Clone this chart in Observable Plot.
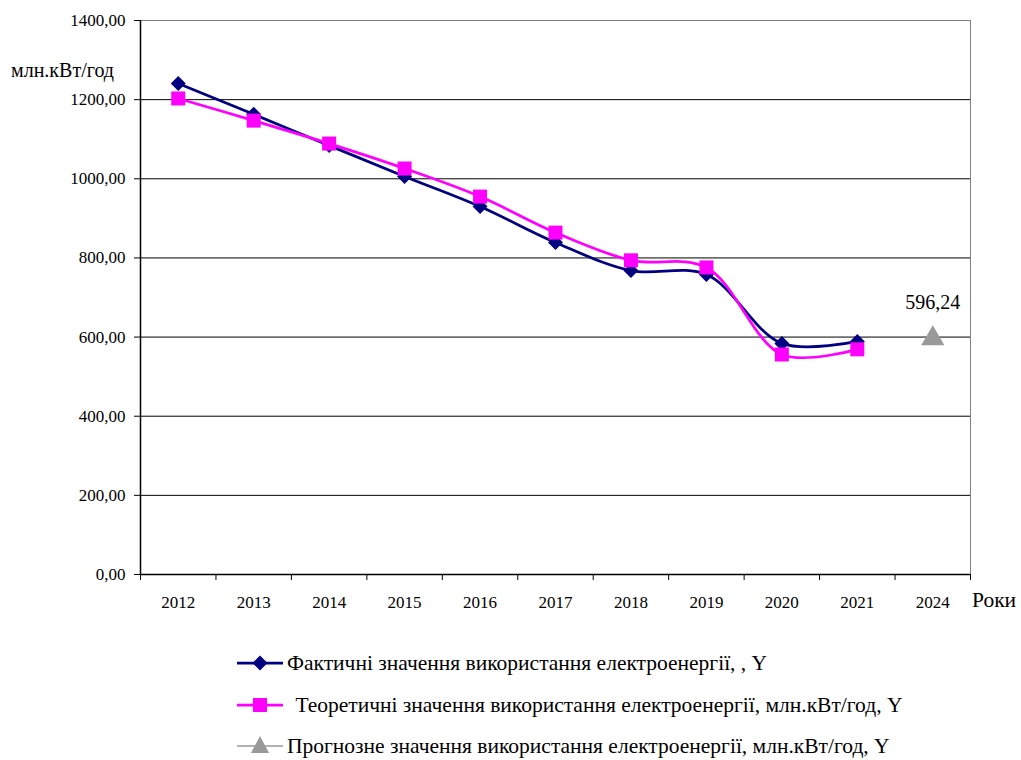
<!DOCTYPE html>
<html>
<head>
<meta charset="utf-8">
<script src="https://cdn.jsdelivr.net/npm/d3@7"></script>
<script src="https://cdn.jsdelivr.net/npm/@observablehq/plot@0.6"></script>
<style>
  body { margin: 0; background: #fff; }
  #wrap { position: relative; width: 1021px; height: 760px; font-family: "Times New Roman", "Liberation Serif", "DejaVu Serif", serif; }
  #chart { position: absolute; left: 0; top: 0; }
  .lbl { position: absolute; color: #000; white-space: nowrap; line-height: 1; }
  .legend { position: absolute; left: 237px; height: 26px; line-height: 26px; font-size: 21.5px; display: flex; align-items: center; white-space: nowrap; }
  .legend svg { margin-right: 4px; }
</style>
</head>
<body>
<div id="wrap">
  <div id="chart"></div>
  <div class="lbl" style="left:11px; top:60px; font-size:20px;">млн.кВт/год</div>
  <div class="lbl" style="left:972px; top:590px; font-size:21.5px;">Роки</div>
  <div id="legend"></div>
</div>
<script>
// Electricity consumption, mln kWh
const years = ["2012", "2013", "2014", "2015", "2016", "2017", "2018", "2019", "2020", "2021", "2024"];
const actual = [1241, 1163, 1084, 1006, 930, 839, 768, 758, 584, 589];
const theoretical = [1203, 1147, 1089, 1026, 955, 864, 794, 776, 556, 569];
const forecastYear = "2024";
const forecastValue = 596.24;
const yTicks = [0, 200, 400, 600, 800, 1000, 1200, 1400];

const legendItems = [
  {label: "Фактичні значення використання електроенергії, , Y", color: "#000080", marker: "diamond", pad: 0},
  {label: " Теоретичні значення використання електроенергії, млн.кВт/год, Y", color: "#ff00ff", marker: "square", pad: 3},
  {label: "Прогнозне значення використання електроенергії, млн.кВт/год, Y", color: "#999999", marker: "triangle", pad: 0}
];

const idx = y => years.indexOf(y);
const actualRows = actual.map((v, i) => ({i, v}));
const theoRows = theoretical.map((v, i) => ({i, v}));
const forecastRows = [{i: idx(forecastYear), v: forecastValue}];
const boundaries = d3.range(years.length + 1).map(k => k - 0.5);
const comma = v => d3.format(".2f")(v).replace(".", ",");

// diamond marker; half-diagonal = 1.5 × dot radius
const diamond = {
  draw(ctx, size) {
    const s = Math.sqrt(size / Math.PI) * 1.5;
    ctx.moveTo(0, -s); ctx.lineTo(s, 0); ctx.lineTo(0, s); ctx.lineTo(-s, 0); ctx.closePath();
  }
};

const font = "'Times New Roman', 'Liberation Serif', 'DejaVu Serif', serif";

const chart = Plot.plot({
  width: 1021,
  height: 620,
  marginLeft: 140,
  marginRight: 51,
  marginTop: 20,
  marginBottom: 46,
  style: {fontFamily: font, fontSize: "17px", color: "#000", background: "#fff"},
  x: {domain: [-0.5, years.length - 0.5]},
  y: {domain: [0, 1400]},
  marks: [
    // horizontal gridlines
    Plot.ruleY(yTicks.filter(t => t > 0 && t < 1400), {stroke: "#000", strokeWidth: 1}),
    // plot area border (top and right)
    Plot.ruleY([1400], {stroke: "#808080", strokeWidth: 1}),
    Plot.ruleX([years.length - 0.5], {stroke: "#808080", strokeWidth: 1}),
    // axes
    Plot.axisY({ticks: yTicks, tickFormat: comma, tickSize: 6, tickPadding: 9, label: null, fontSize: 17}),
    Plot.axisX({ticks: boundaries, tickFormat: () => "", tickSize: 6, label: null}),
    Plot.axisX({ticks: d3.range(years.length), tickFormat: i => years[i], tickSize: 0, tickPadding: 21, label: null, fontSize: 17}),
    Plot.ruleY([0], {stroke: "#000", strokeWidth: 1.5}),
    Plot.ruleX([-0.5], {stroke: "#000", strokeWidth: 1.5}),
    // series
    Plot.line(actualRows, {x: "i", y: "v", stroke: "#000080", strokeWidth: 2.75, curve: "catmull-rom"}),
    Plot.dot(actualRows, {x: "i", y: "v", symbol: diamond, r: 5, fill: "#000080", stroke: "none"}),
    Plot.line(theoRows, {x: "i", y: "v", stroke: "#ff00ff", strokeWidth: 2.75, curve: "catmull-rom"}),
    Plot.dot(theoRows, {x: "i", y: "v", symbol: "square", r: 7.9, fill: "#ff00ff", stroke: "none"}),
    Plot.dot(forecastRows, {x: "i", y: "v", symbol: "triangle", r: 8.6, fill: "#999999", stroke: "none"}),
    Plot.text(forecastRows, {x: "i", y: "v", text: d => comma(d.v), dy: -36, fontSize: 20, fill: "#000"})
  ]
});
document.getElementById("chart").append(chart);

// legend below the plot
const legend = document.getElementById("legend");
const ns = "http://www.w3.org/2000/svg";
legendItems.forEach((item, k) => {
  const row = document.createElement("div");
  row.className = "legend";
  row.style.top = (650 + k * 41.5) + "px";
  const sw = document.createElementNS(ns, "svg");
  sw.setAttribute("width", 46); sw.setAttribute("height", 24);
  const ln = document.createElementNS(ns, "line");
  ln.setAttribute("x1", 0); ln.setAttribute("x2", 46); ln.setAttribute("y1", 12); ln.setAttribute("y2", 12);
  ln.setAttribute("stroke", item.color); ln.setAttribute("stroke-width", item.marker === "triangle" ? 1.5 : 2.75);
  sw.append(ln);
  const m = document.createElementNS(ns, "path");
  const d = item.marker === "diamond" ? "M23,4.5L30.5,12L23,19.5L15.5,12Z"
          : item.marker === "square" ? "M16,5H30V19H16Z"
          : "M23,2L32,19H14Z";
  m.setAttribute("d", d); m.setAttribute("fill", item.color);
  sw.append(m);
  row.append(sw);
  const t = document.createElement("span");
  t.textContent = item.label;
  t.style.paddingLeft = item.pad + "px";
  t.style.whiteSpace = "pre";
  row.append(t);
  legend.append(row);
});
</script>
</body>
</html>
